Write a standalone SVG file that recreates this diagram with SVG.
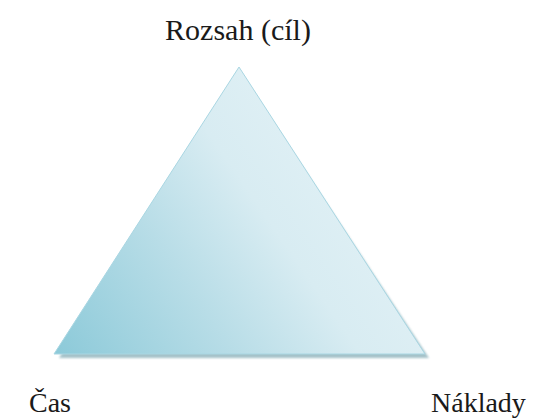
<svg xmlns="http://www.w3.org/2000/svg" width="539" height="419" viewBox="0 0 539 419">
<style>
text{font-family:'Liberation Serif','Times New Roman','DejaVu Serif',serif;font-size:28px;fill:#1a1a1a}
.top{font-size:30px}
</style>
<defs>
<linearGradient id="g" x1="60" y1="354" x2="400" y2="120" gradientUnits="userSpaceOnUse">
<stop offset="0" stop-color="#8dcad9"/>
<stop offset="0.35" stop-color="#b8dde7"/>
<stop offset="0.6" stop-color="#d8ecf2"/>
<stop offset="1" stop-color="#e6f3f7"/>
</linearGradient>
<filter id="sh" x="-10%" y="-10%" width="120%" height="120%">
<feGaussianBlur stdDeviation="1"/>
</filter>
</defs>
<rect width="539" height="419" fill="#fff"/>
<g id="triangle">
<polygon points="239,71 59,358 429,358" fill="#7fa9b3" opacity="0.7" filter="url(#sh)"/>
<polygon points="239,67 54,354 425,354" fill="url(#g)" stroke="#a9d6e2" stroke-width="1"/>
</g>
<g id="label-top"><text class="top" x="238" y="40" text-anchor="middle">Rozsah (cíl)</text></g>
<g id="label-left"><text x="29" y="412">Čas</text></g>
<g id="label-right"><text x="431" y="412">Náklady</text></g>
</svg>
